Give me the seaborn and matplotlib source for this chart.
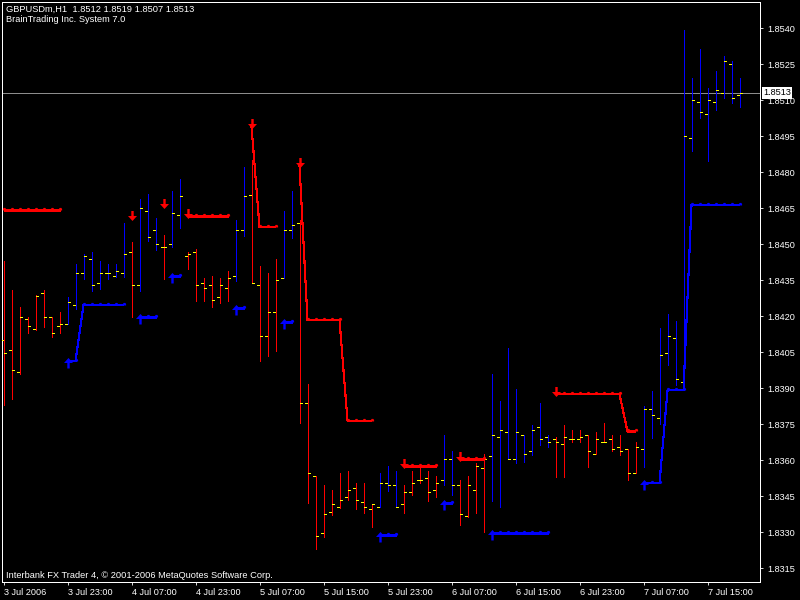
import numpy as np
import pandas as pd
import matplotlib
matplotlib.use("Agg")
import matplotlib.pyplot as plt
from matplotlib.path import Path
import matplotlib.transforms as mtransforms
import seaborn as sns

N = np.nan

# ---------------- data (GBPUSDm, H1) ----------------
opens = [1.84100, 1.84058, 1.83967, 1.84188, 1.84146, 1.84296, 1.84196, 1.84158, 1.84167, 1.84246,
         1.84379, 1.84438, 1.84338, 1.84379, 1.84367, 1.84379, 1.84467, 1.84329, 1.84638, 1.84558,
         1.84488, 1.84500, 1.84621, 1.84450, 1.84467, 1.84338, 1.84329, 1.84279, 1.84317, 1.84367,
         1.84558, 1.84704, 1.84329, 1.84117, 1.84217, 1.84358, 1.84558, 1.84588, 1.83838, 1.83533,
         1.83296, 1.83383, 1.83404, 1.83446, 1.83483, 1.83425, 1.83396, 1.83404, 1.83504, 1.83496,
         1.83417, 1.83467, 1.83517, 1.83525, 1.83475, 1.83517, 1.83604, 1.83496, 1.83367, 1.83475,
         1.83567, 1.83617, 1.83696, 1.83717, 1.83604, 1.83704, 1.83638, 1.83738, 1.83696, 1.83688,
         1.83667, 1.83688, 1.83688, 1.83704, 1.83625, 1.83675, 1.83688, 1.83654, 1.83646, 1.83546,
         1.83646, 1.83813, 1.83775, 1.84046, 1.84108, 1.83925, 1.84942, 1.85092, 1.85042, 1.85092,
         1.85129, 1.85250, 1.85120]
highs = [1.84429, 1.84308, 1.84238, 1.84196, 1.84288, 1.84308, 1.84196, 1.84217, 1.84279, 1.84417,
         1.84458, 1.84467, 1.84429, 1.84417, 1.84417, 1.84588, 1.84508, 1.84688, 1.84708, 1.84608,
         1.84538, 1.84721, 1.84771, 1.84467, 1.84479, 1.84358, 1.84367, 1.84358, 1.84388, 1.84600,
         1.84821, 1.84850, 1.84408, 1.84379, 1.84438, 1.84638, 1.84721, 1.84600, 1.83917, 1.83533,
         1.83496, 1.83475, 1.83546, 1.83554, 1.83504, 1.83504, 1.83417, 1.83546, 1.83575, 1.83554,
         1.83496, 1.83554, 1.83567, 1.83554, 1.83533, 1.83704, 1.83638, 1.83517, 1.83533, 1.83588,
         1.83625, 1.83958, 1.83846, 1.84067, 1.83896, 1.83704, 1.83746, 1.83838, 1.83704, 1.83696,
         1.83746, 1.83725, 1.83725, 1.83704, 1.83717, 1.83754, 1.83704, 1.83704, 1.83646, 1.83675,
         1.83825, 1.83888, 1.84150, 1.84208, 1.84179, 1.85392, 1.85192, 1.85313, 1.85150, 1.85221,
         1.85283, 1.85263, 1.85190]
lows = [1.83829, 1.83854, 1.83958, 1.84129, 1.84142, 1.84154, 1.84113, 1.84129, 1.84167, 1.84229,
        1.84354, 1.84304, 1.84313, 1.84354, 1.84363, 1.84363, 1.84196, 1.84304, 1.84513, 1.84475,
        1.84354, 1.84488, 1.84567, 1.84396, 1.84263, 1.84263, 1.84238, 1.84254, 1.84263, 1.84346,
        1.84533, 1.84338, 1.84013, 1.84033, 1.84054, 1.84358, 1.84525, 1.83754, 1.83421, 1.83229,
        1.83279, 1.83371, 1.83400, 1.83433, 1.83396, 1.83379, 1.83321, 1.83404, 1.83471, 1.83404,
        1.83379, 1.83454, 1.83504, 1.83429, 1.83446, 1.83496, 1.83454, 1.83329, 1.83363, 1.83379,
        1.83300, 1.83429, 1.83404, 1.83604, 1.83588, 1.83592, 1.83621, 1.83663, 1.83654, 1.83529,
        1.83529, 1.83675, 1.83675, 1.83571, 1.83625, 1.83675, 1.83638, 1.83621, 1.83517, 1.83546,
        1.83571, 1.83692, 1.83750, 1.83996, 1.83913, 1.83913, 1.84888, 1.85025, 1.84846, 1.85058,
        1.85108, 1.85088, 1.85070]
closes = [1.84046, 1.83975, 1.84196, 1.84158, 1.84283, 1.84196, 1.84129, 1.84167, 1.84258, 1.84379,
          1.84450, 1.84329, 1.84379, 1.84379, 1.84388, 1.84458, 1.84329, 1.84650, 1.84529, 1.84500,
          1.84488, 1.84629, 1.84700, 1.84458, 1.84329, 1.84317, 1.84267, 1.84329, 1.84358, 1.84558,
          1.84700, 1.84338, 1.84117, 1.84217, 1.84350, 1.84558, 1.84579, 1.83838, 1.83546, 1.83283,
          1.83375, 1.83417, 1.83433, 1.83475, 1.83433, 1.83404, 1.83417, 1.83504, 1.83496, 1.83404,
          1.83467, 1.83504, 1.83517, 1.83467, 1.83504, 1.83604, 1.83496, 1.83375, 1.83496, 1.83575,
          1.83604, 1.83704, 1.83725, 1.83604, 1.83717, 1.83625, 1.83725, 1.83688, 1.83675, 1.83675,
          1.83696, 1.83688, 1.83696, 1.83638, 1.83688, 1.83675, 1.83646, 1.83638, 1.83546, 1.83654,
          1.83813, 1.83788, 1.84038, 1.84117, 1.83938, 1.84950, 1.85100, 1.85050, 1.85100, 1.85142,
          1.85263, 1.85108, 1.85130]

# BrainTrend stop levels (NaN where the line is not drawn)
red_stop = [1.84642] * 8 + [N] * 8 + [1.8461] + [N] * 3 + [1.8466] + [N] * 2 + [1.84617] * 6 + [N] * 2 \
    + [1.8499] + [1.84571] * 3 + [N] * 2 + [1.84829] + [1.84183] * 5 + [1.83764] * 4 + [N] * 3 \
    + [1.83575] * 5 + [N] * 2 + [1.83604] * 4 + [N] * 8 + [1.83875] * 9 + [1.83719] * 2 + [N] * 13
blue_stop = [N] * 8 + [1.84013] * 2 + [1.84246] * 6 + [N] + [1.84196] * 3 + [N] + [1.84365] * 2 + [N] * 6 \
    + [1.84233] * 2 + [N] * 4 + [1.84175] * 2 + [N] * 10 + [1.83288] * 3 + [N] * 5 + [1.83421] * 2 \
    + [N] * 4 + [1.83296] * 8 + [N] * 11 + [1.83504] * 3 + [1.83890] * 3 + [1.84663] * 7

x_tick_bars = [0, 8, 16, 24, 32, 40, 48, 56, 64, 72, 80, 88]
x_tick_labels = ["3 Jul 2006", "3 Jul 23:00", "4 Jul 07:00", "4 Jul 23:00", "5 Jul 07:00",
                 "5 Jul 15:00", "5 Jul 23:00", "6 Jul 07:00", "6 Jul 15:00", "6 Jul 23:00",
                 "7 Jul 07:00", "7 Jul 15:00"]
y_ticks = [1.8540, 1.8525, 1.8510, 1.8495, 1.8480, 1.8465, 1.8450, 1.8435, 1.8420,
           1.8405, 1.8390, 1.8375, 1.8360, 1.8345, 1.8330, 1.8315]

title_line1 = "GBPUSDm,H1  1.8512 1.8519 1.8507 1.8513"
title_line2 = "BrainTrading Inc. System 7.0"
footer = "Interbank FX Trader 4, \u00a9 2001-2006 MetaQuotes Software Corp."

# ---------------- style ----------------
sns.set_theme(style="dark")
plt.rcParams["font.family"] = ["Liberation Sans", "DejaVu Sans"]
plt.rcParams["lines.antialiased"] = False
plt.rcParams["patch.antialiased"] = False

W, H = 800, 600
fig = plt.figure(figsize=(8, 6), dpi=100, facecolor="black")
ax = fig.add_axes([2 / W, 18 / H, 758 / W, 580 / H])
ax.set_facecolor("black")

idx = np.arange(len(closes))
blue_arr = np.array(blue_stop, float)
red_arr = np.array(red_stop, float)
trend = np.where(np.isnan(blue_arr), "down", "up")
palette = {"up": "#0000FF", "down": "#FF0000"}

# high-low bars
bar_df = pd.DataFrame({
    "bar": np.repeat(idx, 2),
    "price": np.ravel(np.column_stack([lows, highs])),
    "trend": np.repeat(trend, 2),
})
sns.lineplot(data=bar_df, x="bar", y="price", units="bar", estimator=None, hue="trend",
             palette=palette, linewidth=0.5, legend=False, sort=False, ax=ax, zorder=2)

# open (left) and close (right) ticks
rows = []
for i in idx:
    rows += [(2 * i, i - 0.30, opens[i]), (2 * i, i - 0.08, opens[i]),
             (2 * i + 1, i + 0.08, closes[i]), (2 * i + 1, i + 0.30, closes[i])]
tick_df = pd.DataFrame(rows, columns=["tid", "bar", "price"])
sns.lineplot(data=tick_df, x="bar", y="price", units="tid", estimator=None, color="#FFFF00",
             linewidth=0.5, legend=False, sort=False, ax=ax, zorder=3)

# stop lines
def stop_frame(stop):
    s = pd.Series(stop, index=idx)
    valid = s.notna()
    seg = (valid != valid.shift()).cumsum()
    return pd.DataFrame({"bar": idx[valid.values], "price": s[valid].values, "seg": seg[valid].values})

for arr, col in [(red_arr, "#FF0000"), (blue_arr, "#0000FF")]:
    df = stop_frame(arr)
    sns.lineplot(data=df, x="bar", y="price", units="seg", estimator=None, color=col,
                 linewidth=0.8, legend=False, sort=False, ax=ax, zorder=4)

# signal arrows and dot markers
change = np.r_[False, trend[1:] != trend[:-1]]

def px_marker(verts):
    verts = np.asarray(verts, float)
    codes = [Path.MOVETO] + [Path.LINETO] * (len(verts) - 2) + [Path.CLOSEPOLY]
    m = np.abs(verts).max()
    size_pt = 2 * m * 0.72
    return Path(verts, codes), size_pt ** 2

bump, bump_s = px_marker([(-1.6, 0), (-1.6, 1.5), (-0.8, 2.6), (0.8, 2.6), (1.6, 1.5), (1.6, 0), (-1.6, 0)])
down_arrow, down_s = px_marker([(-1.2, 7.5), (1.2, 7.5), (1.2, 2.5), (4.5, 2.5), (0, -2.5),
                                (-4.5, 2.5), (-1.2, 2.5), (-1.2, 7.5)])
up_arrow, up_s = px_marker([(-1.2, -7), (1.2, -7), (1.2, -1.5), (4.5, -1.5), (0, 3.5),
                            (-4.5, -1.5), (-1.2, -1.5), (-1.2, -7)])

for arr, col, arrow, arrow_s in [(red_arr, "#FF0000", down_arrow, down_s),
                                 (blue_arr, "#0000FF", up_arrow, up_s)]:
    valid = ~np.isnan(arr)
    dots = valid & ~change
    sigs = valid & change
    sns.scatterplot(x=idx[dots], y=arr[dots], marker=bump, s=bump_s, color=col,
                    linewidth=0, ax=ax, zorder=5, legend=False)
    sns.scatterplot(x=idx[sigs], y=arr[sigs], marker=arrow, s=arrow_s, color=col,
                    linewidth=0, ax=ax, zorder=6, legend=False)

# current price line
last = closes[-1]
ax.axhline(last, color="#8c8c8c", linewidth=0.5, zorder=1)

# ---------------- axes ----------------
ax.set_xlim(-0.1875, -0.1875 + 758 / 8)
ax.set_ylim(1.855167 - 582 / 24000, 1.855167 - 2 / 24000)
ax.set_xlabel("")
ax.set_ylabel("")
ax.grid(False)
for sp in ax.spines.values():
    sp.set_color("white")
    sp.set_linewidth(0.6)
    sp.set_visible(True)

ax.yaxis.tick_right()
ax.set_yticks(y_ticks)
ax.set_yticklabels([f"{v:.4f}" for v in y_ticks])
ax.set_xticks(x_tick_bars)
ax.set_xticklabels(x_tick_labels, ha="left")
for lab in ax.get_xticklabels():
    lab.set_transform(lab.get_transform() + mtransforms.ScaledTranslation(-1 / 100, 0, fig.dpi_scale_trans))
ax.tick_params(axis="both", colors="white", labelcolor="white", labelsize=6.6,
               length=2.5, width=0.6, direction="out")
ax.tick_params(axis="y", pad=2.5, right=True, left=False)
ax.tick_params(axis="x", pad=2, bottom=True)

# price label box
ax.text(1.004, last, f"{last:.4f}", transform=ax.get_yaxis_transform(), color="black",
        fontsize=6.6, ha="left", va="center", clip_on=False, zorder=10,
        bbox=dict(boxstyle="square,pad=0.15", fc="white", ec="none"))

# texts
fig.text(6 / W, 1 - 5 / H, title_line1, color="white", fontsize=6.7, ha="left", va="top")
fig.text(6 / W, 1 - 15 / H, title_line2, color="white", fontsize=6.7, ha="left", va="top")
fig.text(6 / W, 1 - 580 / H, footer, color="white", fontsize=6.7, ha="left", va="bottom")

fig.savefig("out.png", dpi=100, facecolor="black")
